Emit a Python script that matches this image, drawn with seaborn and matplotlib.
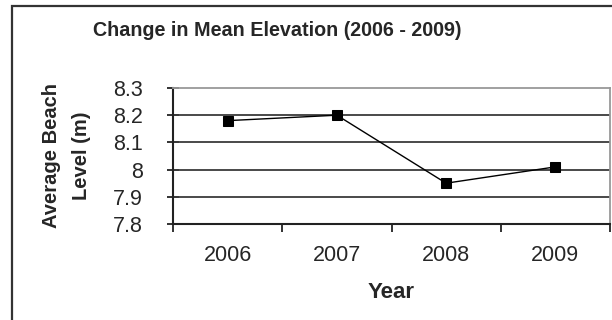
import matplotlib
matplotlib.use("Agg")
import matplotlib.pyplot as plt
import matplotlib.patches as patches
import seaborn as sns
import pandas as pd

# Data
years = ["2006", "2007", "2008", "2009"]
beach_level = [8.18, 8.20, 7.95, 8.01]
y_ticks = [7.8, 7.9, 8.0, 8.1, 8.2, 8.3]
y_tick_labels = ["7.8", "7.9", "8", "8.1", "8.2", "8.3"]

df = pd.DataFrame({"Year": years, "Level": beach_level})

sns.set_style("white")
plt.rcParams["font.family"] = ["Liberation Sans", "DejaVu Sans"]

fig = plt.figure(figsize=(6.12, 3.2), dpi=100)
ax = fig.add_axes([173 / 612, 1 - 224 / 320, (610 - 173) / 612, (224 - 88) / 320])

# outer chart border (clipped at right and bottom like the source)
fig.patches.append(patches.Rectangle((12 / 612, -0.1), 1.2, (320 - 6) / 320 + 0.1,
                                     transform=fig.transFigure, fill=False,
                                     edgecolor="#333333", linewidth=1.6))

for v in [7.9, 8.0, 8.1, 8.2]:
    ax.axhline(v, color="#3a3a3a", linewidth=1.3, zorder=1)

sns.lineplot(data=df, x="Year", y="Level", ax=ax, color="black", linewidth=1.0,
             marker="s", markersize=7, markeredgecolor="black", zorder=3)

ax.set_xlim(-0.5, 3.5)
ax.set_ylim(7.8, 8.3)
ax.set_yticks(y_ticks)
ax.set_yticklabels(y_tick_labels)
ax.set_xticks(range(len(years)))
ax.set_xticklabels(years)
ax.set_xticks([-0.5, 0.5, 1.5, 2.5, 3.5], minor=True)

ax.tick_params(axis="x", which="major", length=0, pad=15, labelsize=15.5)
ax.tick_params(axis="x", which="minor", direction="out", length=6, width=1.3, color="#222222", bottom=True)
ax.tick_params(axis="y", direction="inout", length=9, width=1.3, color="#222222", labelsize=15.5, pad=17, left=True)

for side in ["top", "right"]:
    ax.spines[side].set_color("#999999")
    ax.spines[side].set_linewidth(1.3)
for side in ["left", "bottom"]:
    ax.spines[side].set_color("#222222")
    ax.spines[side].set_linewidth(1.5)

ax.set_xlabel("Year", fontsize=16, fontweight="bold", labelpad=12)
ax.set_ylabel("Average Beach\nLevel (m)", fontsize=14.5, fontweight="bold", labelpad=16,
              linespacing=1.75)

fig.text(277 / 612, 1 - 30 / 320, "Change in Mean Elevation (2006 - 2009)",
         ha="center", va="center", fontsize=14.2, fontweight="bold")

fig.savefig("out.png", dpi=100)
